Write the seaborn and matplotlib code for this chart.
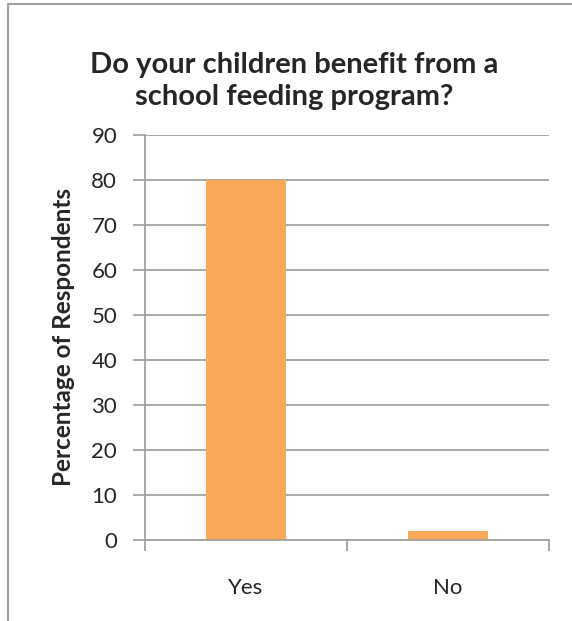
import numpy as np
import pandas as pd
import seaborn as sns
import matplotlib.pyplot as plt
from matplotlib.lines import Line2D

# data
answers = ["Yes", "No"]
percent = [80, 2]
y_ticks = list(range(0, 100, 10))

sns.set_style("white")
plt.rcParams['font.family'] = ['Lato', 'DejaVu Sans']

df = pd.DataFrame({"answer": answers, "percent": percent})

fig = plt.figure(figsize=(5.72, 6.21), dpi=100)
ax = fig.add_axes([145 / 572, 1 - 540 / 621, (549 - 145) / 572, (540 - 134.7) / 621])

grid_c = "#A3A3A3"
ax.set_axisbelow(True)
ax.yaxis.grid(True, color=grid_c, linewidth=1.3)

sns.barplot(data=df, x="answer", y="percent", color="#F9A857", saturation=1,
            width=0.4, linewidth=0, ax=ax)

ax.set_ylim(0, 90)
ax.set_xlim(-0.5, 1.5)
ax.set_yticks(y_ticks)
ax.set_xlabel("")
ax.set_ylabel("Percentage of Respondents", fontsize=17.5, fontweight="bold")
ax.yaxis.set_label_coords((75 - 145) / 404, 0.5)

for s in ["top", "right"]:
    ax.spines[s].set_visible(False)
for s in ["left", "bottom"]:
    ax.spines[s].set_color(grid_c)
    ax.spines[s].set_linewidth(1.3)

ax.tick_params(axis="y", which="major", length=9, width=1.3, color=grid_c,
               labelsize=16, pad=11, left=True)
ax.tick_params(axis="x", which="major", length=0, labelsize=16, pad=27)
ax.set_xticks([-0.5, 0.5, 1.5], minor=True)
ax.tick_params(axis="x", which="minor", length=8, width=1.3, color=grid_c, bottom=True)

fig.text(294 / 572, 1 - 81 / 621, "Do your children benefit from a\nschool feeding program?",
         ha="center", va="center", fontsize=21, fontweight="bold", linespacing=1.3)

# chart frame (top and left edges visible)
fig.add_artist(Line2D([8 / 572, 8 / 572, 1.0], [0.0, 1 - 4 / 621, 1 - 4 / 621],
                      transform=fig.transFigure, color="#A0A0A0", linewidth=1.5))

fig.savefig("out.png", dpi=100)
